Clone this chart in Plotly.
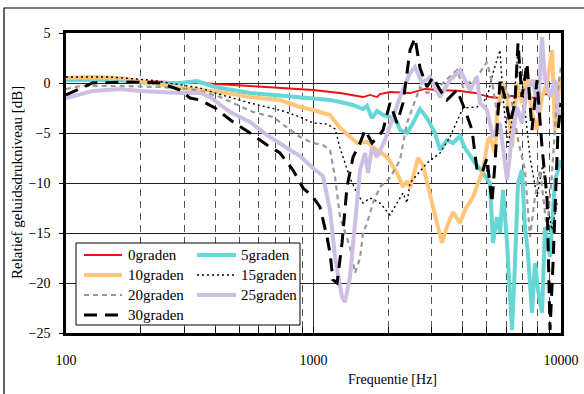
import plotly.graph_objects as go

names = ["0graden", "5graden", "10graden", "15graden", "20graden", "25graden", "30graden"]

s0 = [(100, 0.3), (137, 0.3), (199, 0.2), (348, 0.0), (554, -0.3), (882, -0.6), (995, -0.7),
      (1280, -1.0), (1472, -1.3), (1585, -1.4), (1692, -1.2), (1806, -1.4), (1857, -1.1),
      (2037, -0.9), (2455, -1.0), (2822, -0.6), (3245, -0.7), (3908, -0.8), (4493, -1.0),
      (5165, -1.4), (5670, -1.5), (6223, -1.3), (6900, -1.3), (7850, -1.5), (8617, -1.1), (9910, -1.5)]

s5 = [(100, 0.3), (160, 0.3), (218, 0.0), (289, 0.0), (338, 0.2), (400, -0.4), (554, -1.0),
      (753, -1.3), (968, -1.6), (1166, -1.7), (1280, -1.9), (1445, -2.2), (1542, -2.5),
      (1585, -2.6), (1645, -2.3), (1723, -3.5), (1806, -2.8), (1910, -3.2), (2037, -3.4),
      (2175, -3.9), (2236, -4.7), (2387, -5.0), (2524, -4.0), (2694, -2.6), (2875, -3.5),
      (3097, -5.0), (3245, -6.7), (3461, -5.7), (3661, -6.0), (3908, -5.3), (4094, -6.5),
      (4493, -8.0), (4841, -9.0), (5023, -9.5), (5165, -10.0), (5311, -16.0), (5513, -13.4),
      (5670, -15.0), (5830, -10.7), (6052, -16.0), (6340, -24.7), (6519, -18.0), (6703, -10.0),
      (6952, -8.7), (7150, -14.4), (7354, -17.0), (7634, -23.0), (7850, -18.0), (8073, -20.7),
      (8380, -23.0), (8617, -14.4), (9030, -17.4), (9460, -9.7), (9728, -8.7), (10000, -7.7)]

s10 = [(100, 0.5), (128, 0.6), (165, 0.5), (199, 0.2), (289, -0.5), (338, -0.7), (419, -0.9),
       (554, -1.4), (732, -1.7), (882, -2.4), (995, -2.7), (1166, -3.2), (1280, -4.5),
       (1499, -6.0), (1645, -5.9), (1806, -6.7), (1982, -7.4), (2175, -9.0), (2300, -10.4),
       (2387, -9.8), (2455, -10.5), (2644, -7.5), (2770, -8.2), (3012, -12.0), (3306, -16.0),
       (3461, -14.4), (3661, -12.9), (3908, -14.0), (4094, -12.7), (4410, -11.4), (4708, -9.4),
       (4841, -8.7), (5070, -5.7), (5165, -5.4), (5411, -7.0), (5513, -3.0), (5830, 0.0),
       (6052, -1.4), (6340, -6.4), (6642, 0.0), (6952, -2.0), (7286, 1.0), (7634, -3.0),
       (7998, -4.7), (8380, -1.4), (8780, 0.0), (9200, 3.3), (9460, -4.7), (9910, 0.6)]

s15 = [(100, 0.6), (150, 0.6), (218, 0.3), (317, -0.4), (348, -0.5), (400, -1.0), (554, -2.0),
       (753, -2.8), (882, -3.4), (995, -4.0), (1134, -4.1), (1222, -4.6), (1280, -6.5),
       (1404, -9.5), (1499, -11.0), (1585, -12.0), (1692, -11.5), (1857, -12.0), (2037, -13.2),
       (2175, -12.0), (2300, -11.0), (2387, -12.0), (2455, -10.0), (2875, -8.0), (3245, -7.0),
       (3561, -5.4), (4018, -2.5), (4578, -2.4), (5023, -1.5), (5311, 1.0), (5670, 3.3),
       (5830, -1.4), (6108, -6.4), (6399, -3.0), (6703, 3.3), (7016, -0.7), (7492, -7.4),
       (7998, -11.4), (8458, -8.0), (8780, -12.0), (9200, -14.7), (9640, -12.0)]

s20 = [(100, -0.6), (114, -0.3), (165, -0.3), (240, -0.4), (317, -0.6), (348, -0.8), (419, -1.4),
       (473, -2.0), (570, -2.9), (686, -3.4), (781, -4.4), (882, -5.4), (995, -6.0), (1092, -6.2),
       (1166, -6.7), (1222, -9.4), (1280, -13.4), (1404, -16.4), (1472, -19.0), (1542, -17.5),
       (1585, -15.0), (1645, -14.0), (1739, -12.0), (1857, -10.4), (2037, -9.5), (2236, -7.7),
       (2387, -4.0), (2524, -2.4), (2694, -0.4), (2875, -1.0), (3097, -0.7), (3337, 0.0),
       (3800, 1.3), (4018, -0.4), (4578, 0.6), (5023, 2.1), (5311, -0.4), (5513, -3.0),
       (5940, -0.4), (6340, -2.0), (6703, -5.7), (7150, -8.7), (7492, -15.4), (7850, -11.4),
       (8225, -8.7), (8780, -14.7), (9200, -9.0), (9640, -1.4), (10000, 1.7)]

s25 = [(100, -1.5), (113, -1.2), (128, -0.8), (165, -0.6), (199, -0.8), (289, -1.0), (348, -1.0),
       (382, -1.4), (460, -2.9), (554, -3.9), (649, -5.2), (804, -6.7), (882, -7.3), (995, -8.5),
       (1092, -9.3), (1166, -12.7), (1222, -17.4), (1304, -21.4), (1340, -21.9), (1404, -19.4),
       (1472, -13.4), (1542, -8.7), (1615, -7.0), (1661, -9.0), (1723, -6.4), (1806, -7.4),
       (1945, -5.7), (2095, -3.4), (2236, -1.4), (2455, 1.0), (2571, 1.6), (2744, 0.0),
       (2956, 0.6), (3245, -1.4), (3561, 0.3), (3908, 1.3), (4290, -0.7), (4578, 0.6),
       (4708, -2.0), (5023, -2.7), (5311, -5.4), (5670, -4.0), (6052, -9.7), (6340, -5.4),
       (6642, -2.4), (6952, -4.0), (7286, -0.7), (7705, 0.3), (8073, -3.0), (8380, 4.6),
       (8617, 0.3), (9030, -1.4), (9460, 0.3), (9910, -4.0)]

s30 = [(100, -1.2), (128, 0.0), (181, 0.1), (240, 0.0), (289, -0.7), (317, -1.5), (348, -1.7),
       (400, -2.5), (473, -3.9), (554, -5.0), (649, -6.2), (732, -7.0), (826, -8.7), (907, -10.5),
       (995, -11.4), (1062, -12.4), (1134, -15.4), (1166, -17.0), (1199, -19.7), (1245, -20.0),
       (1304, -16.0), (1365, -10.4), (1445, -7.4), (1542, -6.0), (1615, -4.7), (1723, -6.0),
       (1823, -5.4), (1910, -4.7), (2037, -2.0), (2175, -4.0), (2300, -2.0), (2455, 3.3),
       (2571, 4.5), (2694, 1.5), (2875, -0.4), (3040, 0.6), (3245, -0.7), (3461, -1.7),
       (3800, -0.7), (4094, -2.7), (4370, -4.7), (4578, -8.7), (4796, -9.0), (5023, -7.5),
       (5262, -12.0), (5411, -8.0), (5670, 0.3), (5940, -1.4), (6223, -4.0), (6519, -2.0),
       (6703, 4.0), (6952, -1.4), (7286, 2.0), (7634, -4.7), (7998, 0.3), (8380, -6.4),
       (8780, -11.4), (9030, -24.7), (9286, -18.0), (9728, -4.7), (10000, -2.0)]

series = [s0, s5, s10, s15, s20, s25, s30]
colors = ["#ee1111", "#66d6d6", "#ffc67a", "#000000", "#999999", "#cdbfe4", "#000000"]
widths = [1.8, 4, 4, 1.4, 2.2, 4, 3]
dashes = ["solid", "solid", "solid", "2px,3px", "5px,4px", "solid", "13px,8px"]

x_major = [100, 1000, 10000]
x_minor = [200, 300, 400, 500, 600, 700, 800, 900, 2000, 3000, 4000, 5000, 6000, 7000, 8000, 9000]
y_ticks = [-25, -20, -15, -10, -5, 0, 5]

FONT = "Liberation Serif, Times New Roman, serif"

fig = go.Figure()
for name, s, c, w, d in zip(names, series, colors, widths, dashes):
    fig.add_trace(go.Scatter(x=[p[0] for p in s], y=[p[1] for p in s], mode="lines", name=name,
                             line=dict(color=c, width=w, dash=d), showlegend=False))

fig.update_layout(
    width=584, height=394, autosize=False,
    margin=dict(l=66, r=23, t=33, b=61, autoexpand=False),
    paper_bgcolor="white", plot_bgcolor="white", showlegend=False,
    font=dict(family=FONT, size=14, color="black"),
)
fig.update_xaxes(type="log", range=[2, 4], tickmode="array", tickvals=x_major, automargin=False,
                 ticktext=[str(v) for v in x_major], showgrid=True, gridcolor="#333333", gridwidth=1,
                 ticks="inside", ticklen=6, tickcolor="black", ticklabelstandoff=12,
                 showline=True, linewidth=2.5, linecolor="black", mirror=True, zeroline=False,
                 minor=dict(tickmode="array", tickvals=x_minor, ticks="inside", ticklen=6,
                            tickcolor="black", showgrid=True, gridcolor="#555555",
                            griddash="7px,5px", gridwidth=1),
                 tickfont=dict(size=14))
fig.update_yaxes(range=[-25, 5], tickmode="array", tickvals=y_ticks, showgrid=True, automargin=False,
                 gridcolor="#222222", gridwidth=1, ticks="outside", ticklen=4, tickcolor="black",
                 ticklabelstandoff=6, showline=True, linewidth=2.5, linecolor="black", mirror=True,
                 zeroline=False, tickfont=dict(size=14))

W, H, L, T = 495.0, 300.0, 66.0, 33.0
def px(x):
    return (x - L) / W
def py(y):
    return (T + H - y) / H

shapes = [dict(type="rect", xref="paper", yref="paper", x0=px(4), x1=px(592), y0=py(420), y1=py(8),
               line=dict(color="black", width=1.2), fillcolor="rgba(0,0,0,0)", layer="below"),
          dict(type="rect", xref="paper", yref="paper", x0=px(76), x1=px(300), y0=py(325), y1=py(243),
               line=dict(color="black", width=1), fillcolor="white", layer="above")]
annotations = []
rows = [255, 275, 295, 315]
cols = [(84, 122, 126), (197, 236, 239)]
for i, (name, c, w, d) in enumerate(zip(names, colors, widths, dashes)):
    r = rows[i // 2]
    x0, x1, xt = cols[i % 2]
    shapes.append(dict(type="line", xref="paper", yref="paper", x0=px(x0), x1=px(x1), y0=py(r), y1=py(r),
                       line=dict(color=c, width=w, dash=d), layer="above"))
    annotations.append(dict(text=name, xref="paper", yref="paper", x=px(xt), y=py(r), xanchor="left",
                            yanchor="middle", showarrow=False, font=dict(size=15)))

annotations.append(dict(text="Frequentie [Hz]", xref="paper", yref="paper", x=px(392), y=py(379),
                        xanchor="center", yanchor="middle", showarrow=False, font=dict(size=14)))
annotations.append(dict(text="Relatief geluidsdrukniveau [dB]", xref="paper", yref="paper", x=px(17),
                        y=py(183), xanchor="center", yanchor="middle", textangle=-90, showarrow=False,
                        font=dict(size=15)))
fig.update_layout(shapes=shapes, annotations=annotations)

fig.write_html("out.html")
